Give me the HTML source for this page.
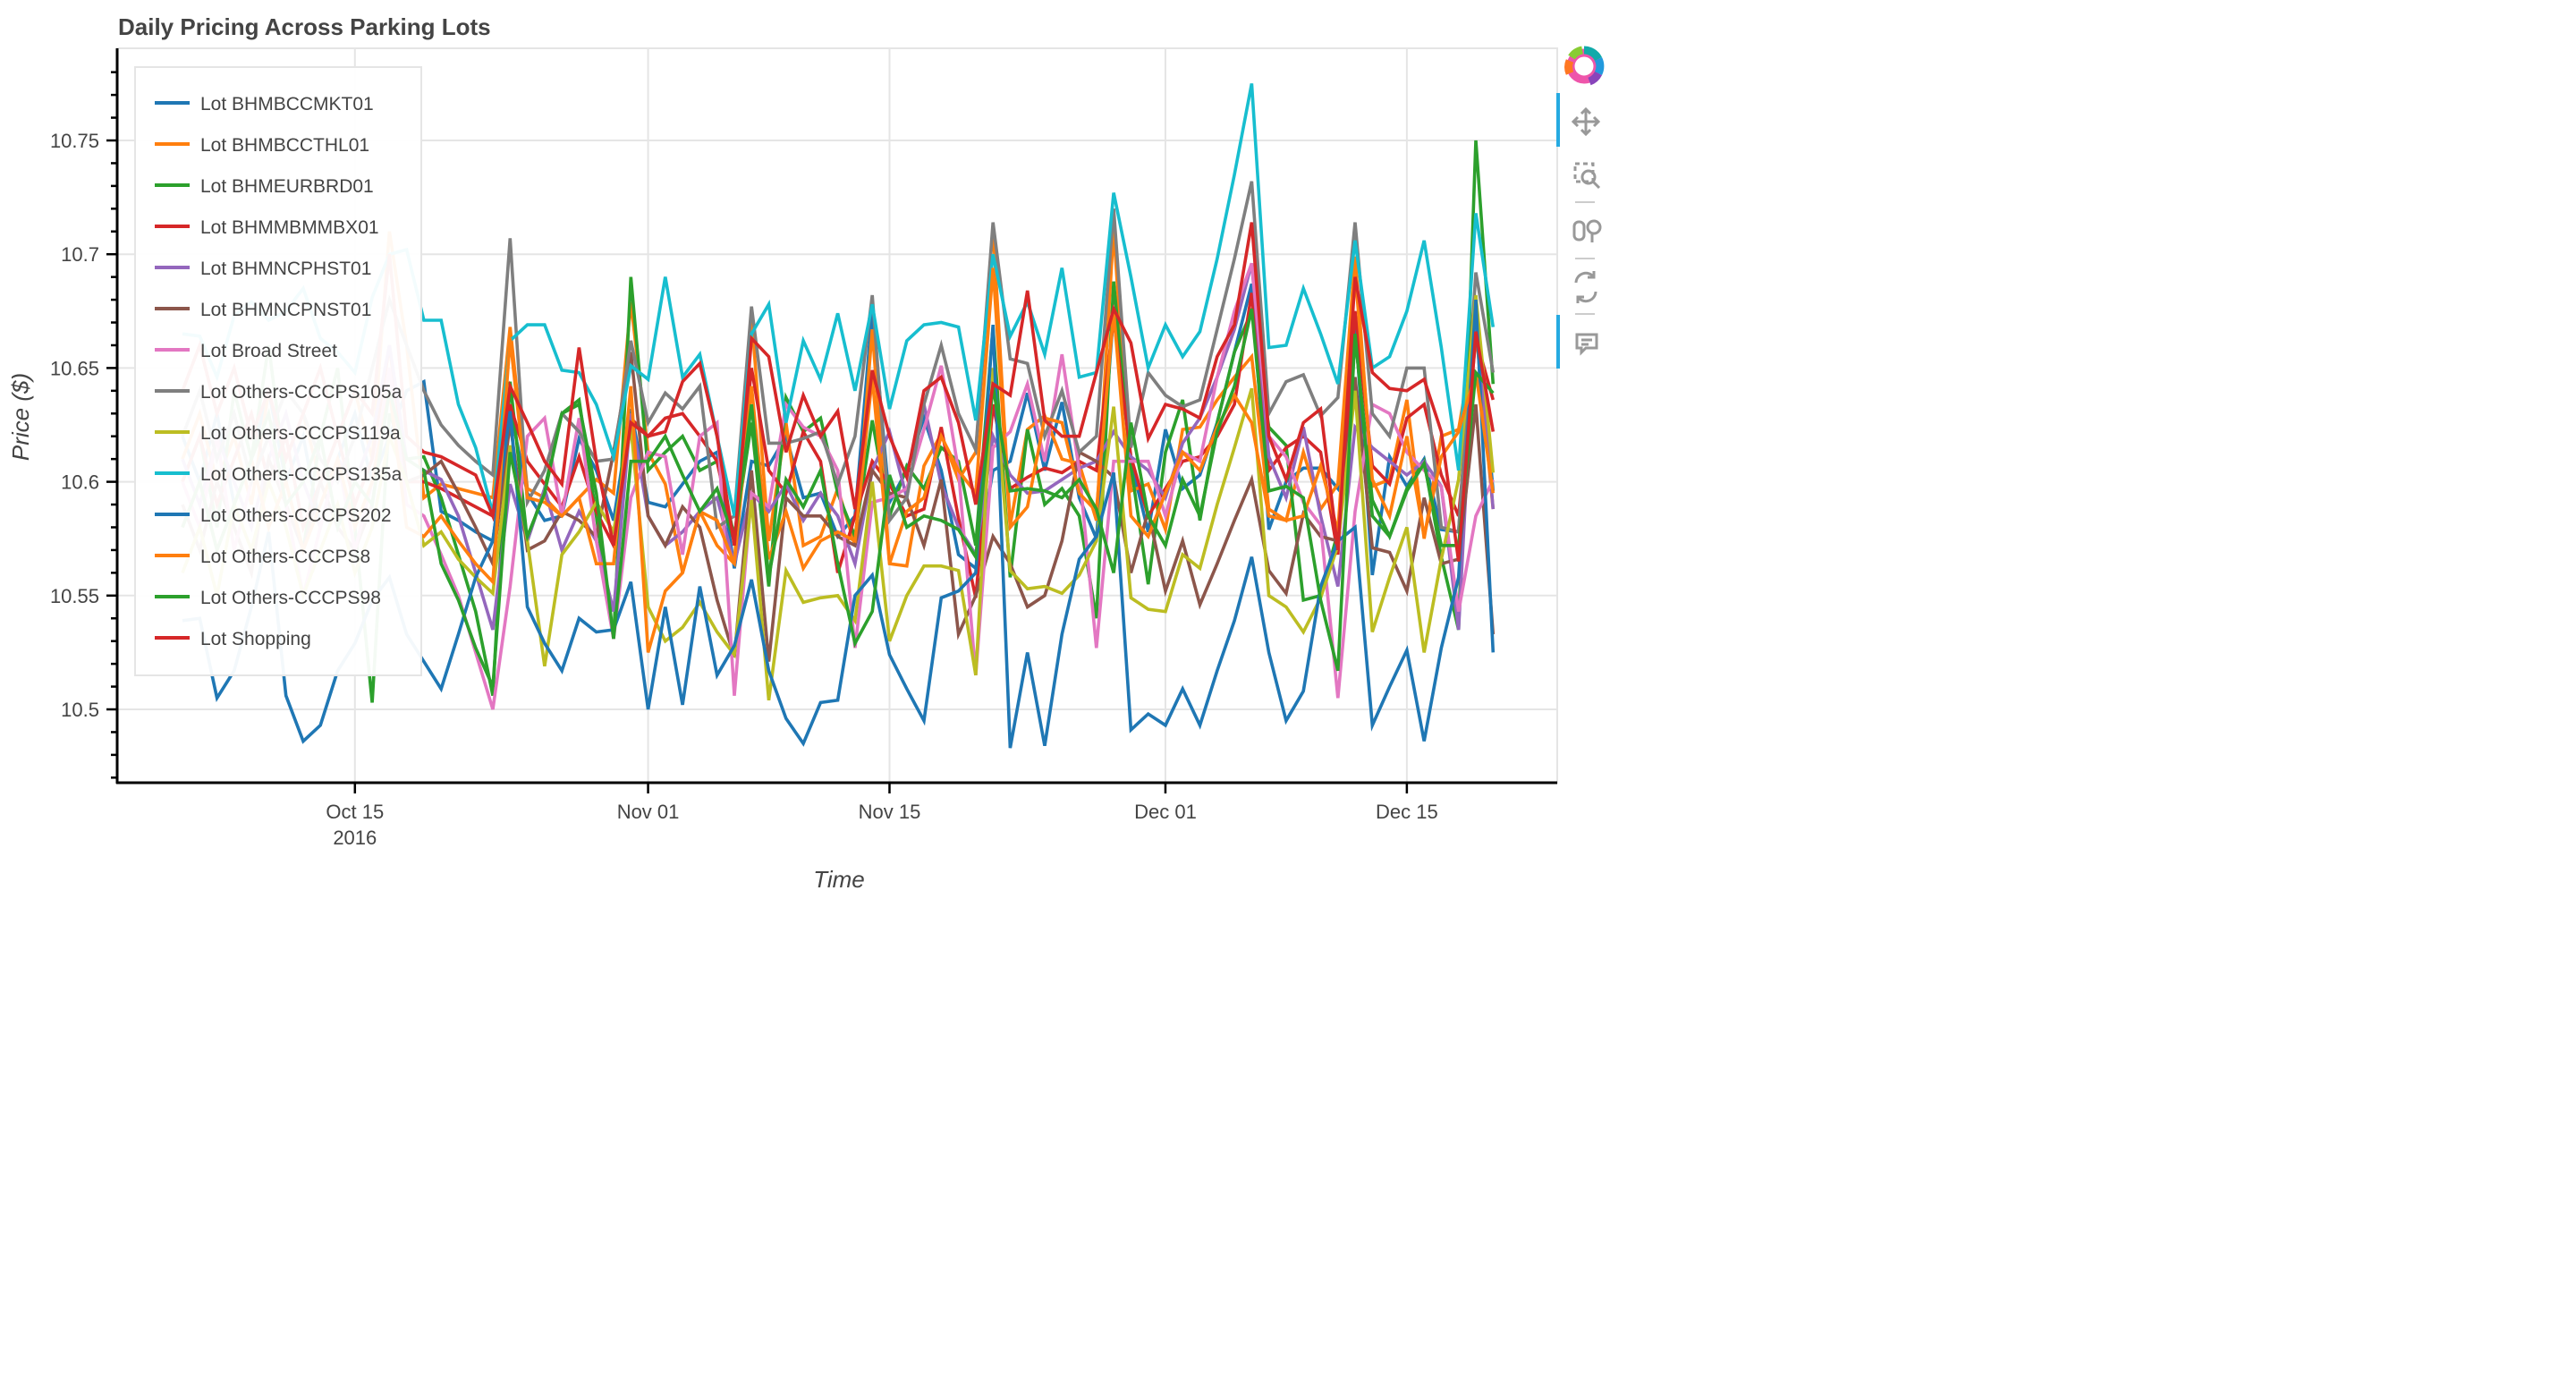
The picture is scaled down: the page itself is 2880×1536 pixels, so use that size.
<!DOCTYPE html>
<html><head><meta charset="utf-8"><style>
html,body{margin:0;padding:0;background:#fff;width:2880px;height:1536px;overflow:hidden}
svg text{font-family:"Liberation Sans",sans-serif}
</style></head><body>
<svg id="chart" width="2880" height="1536" viewBox="0 0 2880 1536" xmlns="http://www.w3.org/2000/svg">
<text x="132" y="39" font-size="26" font-weight="bold" fill="#444">Daily Pricing Across Parking Lots</text>
<g id="grid"></g>
<rect x="131" y="54" width="1610" height="821" fill="none" stroke="#e5e5e5" stroke-width="2"/>
<g id="series"></g>
<g id="axes"></g>
<g id="legend"></g>
<text x="938" y="992" font-size="26" font-style="italic" fill="#444" text-anchor="middle">Time</text>
<text transform="translate(32,466) rotate(-90)" font-size="26" font-style="italic" fill="#444" text-anchor="middle">Price ($)</text>
<g>
  <g>
    <circle cx="1771" cy="74" r="15" fill="none" stroke="#e5a" stroke-width="9"/>
    <path d="M1771 56 a18 18 0 0 1 16 10" stroke="#1aa" stroke-width="9" fill="none"/>
    <path d="M1787 66 a18 18 0 0 1 0 16" stroke="#29d" stroke-width="9" fill="none"/>
    <path d="M1787 82 a18 18 0 0 1 -10 9" stroke="#84b" stroke-width="9" fill="none"/>
    <path d="M1755 82 a18 18 0 0 1 0 -14" stroke="#f72" stroke-width="9" fill="none"/>
    <path d="M1757 64 a18 18 0 0 1 12 -8" stroke="#8c3" stroke-width="9" fill="none"/>
  </g>
  <rect x="1740" y="104" width="4" height="60" fill="#26aae1"/>
  <g stroke="#999" stroke-width="3" fill="none">
    <path d="M1773 122 v28 M1759 136 h28"/>
    <path d="M1768 127 l5 -5 l5 5 M1768 145 l5 5 l5 -5 M1764 131 l-5 5 l5 5 M1782 131 l5 5 l-5 5"/>
  </g>
  <g stroke="#999" stroke-width="3" fill="none">
    <rect x="1761" y="183" width="20" height="20" stroke-dasharray="5 4"/>
    <circle cx="1776" cy="198" r="7"/><path d="M1781 203 l7 7"/>
  </g>
  <rect x="1761" y="225" width="22" height="2" fill="#ccc"/>
  <g stroke="#999" stroke-width="3" fill="none">
    <rect x="1760" y="248" width="11" height="20" rx="5"/><circle cx="1782" cy="254" r="7"/><path d="M1780 261 v10"/>
  </g>
  <rect x="1761" y="288" width="22" height="2" fill="#ccc"/>
  <g stroke="#999" stroke-width="3" fill="none">
    <path d="M1762 316 a11 11 0 0 1 20 -6 M1784 326 a11 11 0 0 1 -20 6"/>
    <path d="M1782 303 v7 h-7 M1764 339 v-7 h7"/>
  </g>
  <rect x="1761" y="350" width="22" height="2" fill="#ccc"/>
  <rect x="1740" y="352" width="4" height="60" fill="#26aae1"/>
  <g stroke="#999" stroke-width="3" fill="none">
    <path d="M1763 374 h22 v15 h-12 l-5 5 v-5 h-5 z M1768 380 h12 M1768 385 h8"/>
  </g>
</g>
</svg>
<script>
const names=["Lot BHMBCCMKT01","Lot BHMBCCTHL01","Lot BHMEURBRD01","Lot BHMMBMMBX01","Lot BHMNCPHST01","Lot BHMNCPNST01","Lot Broad Street","Lot Others-CCCPS105a","Lot Others-CCCPS119a","Lot Others-CCCPS135a","Lot Others-CCCPS202","Lot Others-CCCPS8","Lot Others-CCCPS98","Lot Shopping"];
const colors=["#1f77b4","#ff7f0e","#2ca02c","#d62728","#9467bd","#8c564b","#e377c2","#7f7f7f","#bcbd22","#17becf","#1f77b4","#ff7f0e","#2ca02c","#d62728"];
const yTicks=[10.5,10.55,10.6,10.65,10.7,10.75];
const yTickLabels=["10.5","10.55","10.6","10.65","10.7","10.75"];
const xTickDays=[10,27,41,57,71];
const xTickLabels=["Oct 15","Nov 01","Nov 15","Dec 01","Dec 15"];
const s0=[10.62,10.60,10.63,10.59,10.61,10.64,10.60,10.62,10.58,10.61,10.63,10.60,10.62,10.64,10.644,10.587,10.583,10.578,10.574,10.632,10.595,10.583,10.585,10.619,10.605,10.583,10.632,10.591,10.589,10.599,10.609,10.613,10.562,10.609,10.607,10.620,10.593,10.595,10.576,10.585,10.675,10.591,10.605,10.628,10.605,10.568,10.562,10.605,10.609,10.639,10.605,10.635,10.593,10.575,10.675,10.609,10.578,10.623,10.597,10.603,10.626,10.657,10.687,10.579,10.600,10.606,10.606,10.597,10.671,10.559,10.611,10.598,10.610,10.579,10.578,10.680,10.596];
const s1=[10.61,10.63,10.60,10.62,10.59,10.64,10.61,10.63,10.60,10.62,10.64,10.61,10.71,10.66,10.593,10.599,10.597,10.595,10.593,10.668,10.597,10.593,10.585,10.593,10.601,10.595,10.679,10.613,10.599,10.560,10.587,10.572,10.564,10.673,10.574,10.626,10.572,10.576,10.597,10.572,10.667,10.564,10.563,10.607,10.621,10.601,10.613,10.712,10.581,10.623,10.629,10.610,10.608,10.583,10.711,10.596,10.599,10.579,10.623,10.624,10.636,10.646,10.655,10.588,10.583,10.613,10.588,10.599,10.699,10.598,10.601,10.636,10.575,10.620,10.623,10.667,10.588];
const s2=[10.60,10.62,10.58,10.64,10.61,10.66,10.60,10.57,10.62,10.65,10.58,10.503,10.63,10.61,10.611,10.593,10.568,10.543,10.506,10.644,10.574,10.597,10.630,10.636,10.585,10.531,10.690,10.605,10.613,10.620,10.605,10.609,10.576,10.626,10.554,10.637,10.622,10.628,10.595,10.576,10.627,10.585,10.607,10.597,10.615,10.609,10.572,10.668,10.558,10.623,10.590,10.597,10.585,10.540,10.688,10.607,10.555,10.613,10.636,10.583,10.626,10.657,10.675,10.624,10.616,10.548,10.550,10.578,10.664,10.592,10.576,10.597,10.609,10.567,10.535,10.750,10.643];
const s3=[10.60,10.62,10.59,10.61,10.63,10.60,10.62,10.58,10.60,10.62,10.59,10.61,10.66,10.60,10.600,10.597,10.593,10.589,10.585,10.634,10.609,10.599,10.589,10.611,10.587,10.572,10.628,10.620,10.628,10.630,10.620,10.609,10.574,10.650,10.605,10.595,10.622,10.609,10.560,10.585,10.609,10.599,10.585,10.588,10.624,10.584,10.549,10.634,10.597,10.602,10.606,10.604,10.609,10.605,10.672,10.611,10.585,10.597,10.609,10.611,10.620,10.634,10.683,10.605,10.615,10.620,10.613,10.568,10.675,10.607,10.599,10.628,10.634,10.603,10.585,10.663,10.636];
const s4=[10.61,10.59,10.62,10.60,10.58,10.61,10.63,10.60,10.58,10.61,10.60,10.62,10.66,10.61,10.605,10.601,10.585,10.560,10.535,10.599,10.574,10.597,10.570,10.587,10.574,10.543,10.630,10.585,10.572,10.578,10.587,10.593,10.564,10.595,10.587,10.599,10.583,10.595,10.585,10.564,10.605,10.622,10.593,10.634,10.599,10.580,10.568,10.620,10.603,10.595,10.596,10.601,10.606,10.609,10.622,10.611,10.605,10.593,10.617,10.628,10.646,10.667,10.696,10.611,10.593,10.624,10.585,10.554,10.624,10.615,10.609,10.603,10.609,10.598,10.535,10.679,10.588];
const s5=[10.59,10.57,10.60,10.58,10.56,10.61,10.59,10.57,10.60,10.58,10.57,10.59,10.64,10.60,10.603,10.609,10.595,10.580,10.564,10.626,10.570,10.574,10.587,10.583,10.576,10.613,10.657,10.585,10.572,10.589,10.580,10.548,10.523,10.605,10.521,10.593,10.585,10.585,10.576,10.572,10.605,10.595,10.593,10.572,10.601,10.533,10.550,10.576,10.564,10.545,10.550,10.574,10.613,10.609,10.602,10.560,10.587,10.552,10.574,10.546,10.564,10.583,10.601,10.561,10.551,10.586,10.576,10.574,10.646,10.571,10.569,10.552,10.593,10.564,10.566,10.634,10.533];
const s6=[10.60,10.58,10.62,10.57,10.60,10.62,10.59,10.55,10.58,10.61,10.57,10.60,10.65,10.59,10.585,10.568,10.550,10.525,10.500,10.554,10.620,10.628,10.585,10.628,10.574,10.531,10.593,10.613,10.611,10.568,10.620,10.626,10.506,10.595,10.589,10.634,10.624,10.620,10.605,10.527,10.591,10.593,10.597,10.623,10.651,10.605,10.515,10.615,10.622,10.643,10.609,10.656,10.605,10.527,10.609,10.609,10.609,10.585,10.613,10.609,10.646,10.675,10.696,10.620,10.611,10.591,10.581,10.505,10.587,10.634,10.630,10.613,10.605,10.598,10.543,10.585,10.601];
const s7=[10.62,10.64,10.61,10.63,10.60,10.62,10.64,10.63,10.61,10.60,10.62,10.65,10.68,10.66,10.640,10.625,10.616,10.609,10.603,10.707,10.591,10.605,10.630,10.622,10.609,10.610,10.662,10.626,10.639,10.632,10.642,10.580,10.585,10.677,10.617,10.617,10.619,10.622,10.599,10.620,10.682,10.583,10.593,10.634,10.660,10.630,10.614,10.714,10.654,10.652,10.620,10.640,10.613,10.620,10.720,10.615,10.648,10.638,10.633,10.636,10.667,10.698,10.732,10.630,10.644,10.647,10.629,10.637,10.714,10.630,10.620,10.650,10.650,10.580,10.578,10.692,10.648];
const s8=[10.56,10.58,10.55,10.59,10.57,10.60,10.58,10.55,10.57,10.59,10.56,10.58,10.62,10.60,10.572,10.578,10.566,10.558,10.551,10.616,10.574,10.519,10.568,10.578,10.591,10.578,10.624,10.545,10.530,10.536,10.547,10.534,10.524,10.592,10.504,10.561,10.547,10.549,10.550,10.539,10.600,10.530,10.550,10.563,10.563,10.561,10.515,10.650,10.561,10.553,10.554,10.551,10.559,10.574,10.633,10.549,10.544,10.543,10.568,10.562,10.590,10.615,10.641,10.550,10.545,10.534,10.549,10.572,10.640,10.534,10.558,10.580,10.525,10.566,10.601,10.682,10.604];
const s9=[10.665,10.664,10.646,10.673,10.679,10.671,10.675,10.685,10.663,10.657,10.648,10.681,10.700,10.702,10.671,10.671,10.634,10.615,10.586,10.662,10.669,10.669,10.649,10.648,10.634,10.611,10.651,10.645,10.690,10.646,10.656,10.620,10.585,10.665,10.678,10.626,10.662,10.645,10.674,10.640,10.678,10.632,10.662,10.669,10.670,10.668,10.627,10.700,10.664,10.679,10.656,10.694,10.646,10.648,10.727,10.690,10.650,10.669,10.655,10.666,10.698,10.735,10.775,10.659,10.660,10.685,10.665,10.643,10.706,10.650,10.655,10.675,10.706,10.659,10.605,10.718,10.668];
const s10=[10.539,10.540,10.505,10.517,10.545,10.578,10.506,10.486,10.493,10.517,10.529,10.548,10.558,10.533,10.521,10.509,10.533,10.558,10.574,10.631,10.545,10.529,10.517,10.540,10.534,10.535,10.556,10.500,10.545,10.502,10.554,10.515,10.528,10.557,10.517,10.496,10.485,10.503,10.504,10.550,10.559,10.524,10.509,10.495,10.549,10.552,10.560,10.669,10.483,10.525,10.484,10.533,10.566,10.576,10.604,10.491,10.498,10.493,10.509,10.493,10.517,10.539,10.567,10.525,10.495,10.508,10.554,10.574,10.580,10.493,10.510,10.526,10.486,10.527,10.558,10.680,10.525];
const s11=[10.58,10.60,10.57,10.59,10.61,10.58,10.60,10.57,10.59,10.61,10.58,10.60,10.64,10.58,10.576,10.585,10.574,10.564,10.556,10.663,10.593,10.591,10.585,10.593,10.564,10.564,10.642,10.525,10.552,10.560,10.587,10.583,10.564,10.642,10.566,10.587,10.562,10.574,10.578,10.574,10.646,10.564,10.587,10.593,10.620,10.605,10.595,10.694,10.580,10.589,10.628,10.626,10.595,10.587,10.675,10.585,10.576,10.595,10.613,10.605,10.624,10.638,10.626,10.585,10.583,10.585,10.607,10.578,10.692,10.601,10.585,10.620,10.576,10.611,10.622,10.648,10.595];
const s12=[10.58,10.60,10.57,10.59,10.61,10.63,10.59,10.60,10.62,10.58,10.60,10.59,10.64,10.61,10.605,10.564,10.548,10.527,10.510,10.613,10.576,10.595,10.630,10.634,10.595,10.531,10.609,10.609,10.620,10.603,10.587,10.597,10.574,10.634,10.558,10.601,10.589,10.605,10.564,10.529,10.543,10.603,10.580,10.585,10.583,10.579,10.567,10.642,10.596,10.597,10.596,10.593,10.601,10.588,10.560,10.626,10.585,10.572,10.601,10.585,10.622,10.642,10.676,10.596,10.598,10.593,10.548,10.517,10.665,10.585,10.576,10.596,10.608,10.572,10.572,10.648,10.639];
const s13=[10.64,10.66,10.63,10.65,10.62,10.64,10.61,10.63,10.65,10.62,10.64,10.63,10.70,10.62,10.613,10.611,10.607,10.603,10.585,10.642,10.626,10.609,10.599,10.659,10.609,10.572,10.626,10.620,10.622,10.644,10.652,10.620,10.572,10.663,10.655,10.613,10.638,10.620,10.631,10.588,10.649,10.620,10.602,10.640,10.646,10.626,10.590,10.643,10.638,10.684,10.627,10.620,10.620,10.648,10.676,10.661,10.619,10.634,10.632,10.628,10.655,10.669,10.714,10.620,10.601,10.626,10.632,10.570,10.690,10.648,10.641,10.640,10.645,10.622,10.565,10.666,10.622];
const seriesValues=[s0,s1,s2,s3,s4,s5,s6,s7,s8,s9,s10,s11,s12,s13];

const NS="http://www.w3.org/2000/svg";
const X0=131,X1=1741,Y0=54,Y1=875;
// day 0 = Oct 05 2016
function xScale(d){return 204+d*19.28;}
function yScale(v){return 793-(v-10.5)*2544;}
function mk(tag,attrs,parent){const e=document.createElementNS(NS,tag);for(const k in attrs)e.setAttribute(k,attrs[k]);parent.appendChild(e);return e;}

const grid=document.getElementById('grid');
const axes=document.getElementById('axes');
yTicks.forEach((v,i)=>{
  const y=yScale(v);
  const g=mk('line',{x1:X0,x2:X1,y1:y,y2:y,stroke:'#e5e5e5','stroke-width':2},grid);
  
  
  const t=mk('line',{x1:X0-12,x2:X0,y1:y,y2:y,stroke:'#000','stroke-width':2.5},axes);
  
  
  const l=mk('text',{x:X0-20,y:y+8,'font-size':22,fill:'#444','text-anchor':'end'},axes);
  l.textContent=yTickLabels[i];
  
  
});
for(let k=0;k<40;k++){
  const v=10.47+k*0.01; const y=yScale(v);
  if(y<Y0+2||y>Y1-2)continue;
  if(Math.abs((v-10.5)/0.05-Math.round((v-10.5)/0.05))<0.01)continue;
  const m=mk('line',{x1:X0-7,x2:X0,y1:y,y2:y,stroke:'#000','stroke-width':2.5},axes);
  
  
}
xTickDays.forEach((d,i)=>{
  const x=xScale(d);
  const g=mk('line',{x1:x,x2:x,y1:Y0,y2:Y1,stroke:'#e5e5e5','stroke-width':2},grid);
  
  
  const t=mk('line',{x1:x,x2:x,y1:Y1,y2:Y1+12,stroke:'#000','stroke-width':2.5},axes);
  
  
  const l=mk('text',{x:x,y:Y1+40,'font-size':22,fill:'#444','text-anchor':'middle'},axes);
  l.textContent=xTickLabels[i];
  
  
});
const yr=mk('text',{x:xScale(10),y:Y1+69,'font-size':22,fill:'#444','text-anchor':'middle'},axes);
yr.textContent='2016';


const ax1=mk('line',{x1:X0,x2:X0,y1:Y0,y2:Y1+1,stroke:'#000','stroke-width':3},axes);


const ax2=mk('line',{x1:X0-1,x2:X1,y1:Y1,y2:Y1,stroke:'#000','stroke-width':3},axes);



const sg=document.getElementById('series');
seriesValues.forEach((vals,i)=>{
  const pts=vals.map((v,d)=>xScale(d).toFixed(1)+','+yScale(v).toFixed(1)).join(' ');
  const p=mk('polyline',{points:pts,fill:'none',stroke:colors[i],'stroke-width':3.6,'stroke-linejoin':'miter'},sg);
  
  
});

const lg=document.getElementById('legend');
const box=mk('rect',{x:151,y:75,width:320,height:680,fill:'#fff','fill-opacity':0.95,stroke:'#e5e5e5','stroke-width':2},lg);


names.forEach((n,i)=>{
  const y=115+i*46;
  const sw=mk('line',{x1:173,x2:212,y1:y,y2:y,stroke:colors[i],'stroke-width':4},lg);
  
  
  const t=mk('text',{x:224,y:y+8,'font-size':21,fill:'#444'},lg);
  t.textContent=n;
  
  
});
</script>
</body></html>
